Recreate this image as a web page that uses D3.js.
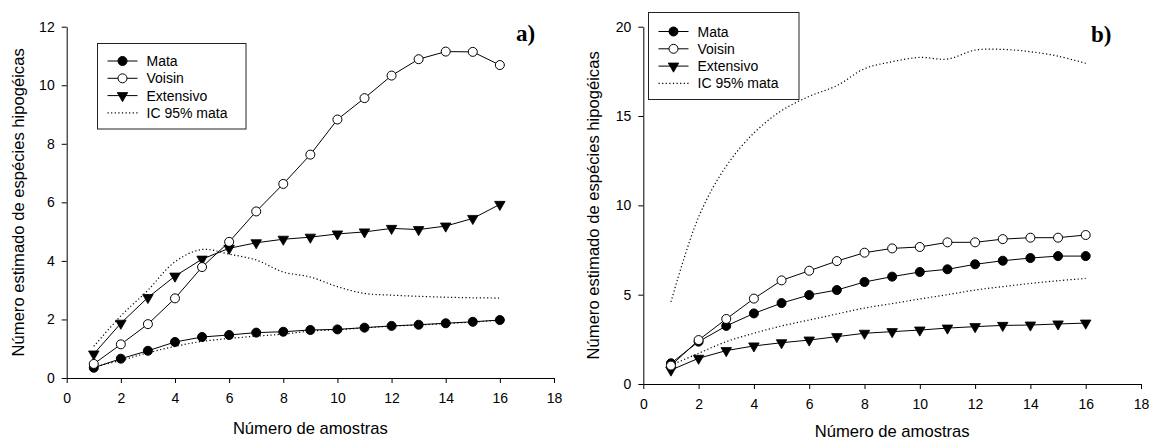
<!DOCTYPE html>
<meta charset="utf-8">
<style>
body { margin: 0; background: #fff; }
text { font-family: "Liberation Sans", Arial, sans-serif; fill: #000; }
.axis .tick text { font-size: 14px; font-family: "Liberation Sans", Arial, sans-serif; }
.axis path, .axis line { stroke: #000; stroke-width: 1; }
.lbl { font-size: 16.6px; }
.tag { font-family: "Liberation Serif", "Times New Roman", serif; font-weight: bold; font-size: 23px; }
.leg text { font-size: 14px; }
</style>
<script src="https://d3js.org/d3.v7.min.js"></script>
<svg width="1150" height="441"></svg>
<script>

var amostras = d3.range(1, 17);

// a)
var mataA     = [0.35, 0.66, 0.93, 1.23, 1.40, 1.47, 1.55, 1.58, 1.64, 1.66, 1.72, 1.78, 1.82, 1.87, 1.92, 1.98];
var voisinA   = [0.48, 1.15, 1.84, 2.72, 3.79, 4.65, 5.69, 6.63, 7.63, 8.83, 9.56, 10.33, 10.89, 11.15, 11.14, 10.69];
var extensA   = [0.82, 1.87, 2.75, 3.48, 4.06, 4.43, 4.62, 4.74, 4.81, 4.92, 4.99, 5.11, 5.07, 5.19, 5.45, 5.93];
var icSupA    = [1.08, 2.12, 3.00, 3.97, 4.39, 4.23, 4.03, 3.62, 3.45, 3.12, 2.89, 2.83, 2.79, 2.76, 2.74, 2.73];
var icInfA    = [0.38, 0.60, 0.86, 1.08, 1.25, 1.35, 1.43, 1.50, 1.60, 1.65, 1.71, 1.77, 1.81, 1.86, 1.91, 1.97];

// b)
var mataB     = [1.16, 2.37, 3.25, 3.95, 4.53, 4.98, 5.26, 5.71, 6.01, 6.27, 6.42, 6.70, 6.90, 7.05, 7.16, 7.16];
var voisinB   = [1.03, 2.46, 3.64, 4.78, 5.80, 6.34, 6.88, 7.35, 7.59, 7.67, 7.93, 7.93, 8.11, 8.19, 8.19, 8.34];
var extensB   = [0.78, 1.44, 1.87, 2.13, 2.31, 2.46, 2.65, 2.84, 2.93, 3.02, 3.13, 3.21, 3.28, 3.30, 3.36, 3.41];
var icSupB    = [4.60, 9.35, 12.20, 14.05, 15.30, 16.10, 16.70, 17.65, 18.04, 18.28, 18.19, 18.69, 18.73, 18.60, 18.35, 17.95];
var icInfB    = [1.05, 1.72, 2.37, 2.84, 3.25, 3.58, 3.92, 4.25, 4.50, 4.76, 5.00, 5.26, 5.45, 5.63, 5.78, 5.91];

var legendNames = ["Mata", "Voisin", "Extensivo", "IC 95% mata"];
var xTicks = d3.range(0, 19, 2);
var yTicksA = d3.range(0, 13, 2);
var yTicksB = d3.range(0, 21, 5);

var svg = d3.select("svg");

function panel(o) {
  var x = d3.scaleLinear().domain([0, 18]).range([o.x0, o.x1]);
  var y = d3.scaleLinear().domain([0, o.ymax]).range([o.y0, o.y1]);
  var g = svg.append("g");

  g.append("g").attr("class", "axis")
      .attr("transform", "translate(0," + o.y0 + ")")
      .call(d3.axisBottom(x).tickValues(xTicks).tickSize(5).tickSizeOuter(0).tickPadding(10));
  g.append("g").attr("class", "axis")
      .attr("transform", "translate(" + o.x0 + ",0)")
      .call(d3.axisLeft(y).tickValues(o.yTicks).tickSize(5).tickSizeOuter(0).tickPadding(7));

  var line = d3.line().x(function(d, i) { return x(amostras[i]); }).y(function(d) { return y(d); });
  var smooth = d3.line().curve(d3.curveCatmullRom).x(function(d, i) { return x(amostras[i]); }).y(function(d) { return y(d); });

  [o.icSup, o.icInf].forEach(function(s) {
    g.append("path").attr("d", smooth(s)).attr("fill", "none")
      .attr("stroke", "#000").attr("stroke-width", 1.2).attr("stroke-dasharray", "1.2,2.4");
  });

  var series = [
    { v: o.ext, sym: "tri" },
    { v: o.mata, sym: "fill" },
    { v: o.voisin, sym: "open" }
  ];
  series.forEach(function(s) {
    g.append("path").attr("d", line(s.v)).attr("fill", "none").attr("stroke", "#000").attr("stroke-width", 1);
  });
  series.forEach(function(s) {
    s.v.forEach(function(d, i) { marker(g, s.sym, x(amostras[i]), y(d)); });
  });

  // legend
  var L = o.leg;
  var lg = g.append("g").attr("class", "leg");
  lg.append("rect").attr("x", L.x).attr("y", L.y).attr("width", L.w).attr("height", L.h)
    .attr("fill", "#fff").attr("stroke", "#222").attr("stroke-width", 1);
  var syms = ["fill", "open", "tri", "dot"];
  legendNames.forEach(function(n, i) {
    var yy = L.y + L.top + i * 17.3;
    var lx = L.x + 10, rx = L.x + 40;
    var ln = lg.append("line").attr("x1", lx).attr("x2", rx).attr("y1", yy).attr("y2", yy)
      .attr("stroke", "#000").attr("stroke-width", 1);
    if (syms[i] === "dot") ln.attr("stroke-width", 1.2).attr("stroke-dasharray", "1.2,2.4");
    else marker(lg, syms[i], (lx + rx) / 2, yy);
    lg.append("text").attr("x", L.x + 49).attr("y", yy + 5).text(n);
  });

  g.append("text").attr("class", "lbl").attr("text-anchor", "middle")
    .attr("x", (o.x0 + o.x1) / 2).attr("y", o.y0 + o.xlOff).text("Número de amostras");
  g.append("text").attr("class", "lbl").attr("text-anchor", "middle")
    .attr("transform", "translate(" + o.ylx + "," + ((o.y0 + o.y1) / 2) + ") rotate(-90)")
    .text("Número estimado de espécies hipogéicas");
  g.append("text").attr("class", "tag").attr("x", o.tag[0]).attr("y", o.tag[1]).text(o.tagText);
}

function marker(g, sym, cx, cy) {
  if (sym === "tri") {
    g.append("path").attr("d", d3.symbol().type(d3.symbolTriangle).size(48)())
      .attr("transform", "translate(" + cx + "," + cy + ") rotate(180)")
      .attr("fill", "#000").attr("stroke", "#000").attr("stroke-width", 0.8);
  } else {
    g.append("circle").attr("cx", cx).attr("cy", cy).attr("r", 4.5)
      .attr("fill", sym === "fill" ? "#000" : "#fff").attr("stroke", "#000").attr("stroke-width", 1);
  }
}

panel({
  x0: 66.7, x1: 554, y0: 378, y1: 26.7, ymax: 12, yTicks: yTicksA,
  mata: mataA, voisin: voisinA, ext: extensA, icSup: icSupA, icInf: icInfA,
  leg: { x: 97.5, y: 43.5, w: 148.5, h: 85.5, top: 17.5 },
  ylx: 24, xlOff: 55.5, tag: [516, 41], tagText: "a)"
});

panel({
  x0: 643.3, x1: 1141, y0: 384, y1: 26.7, ymax: 20, yTicks: yTicksB,
  mata: mataB, voisin: voisinB, ext: extensB, icSup: icSupB, icInf: icInfB,
  leg: { x: 648.5, y: 12.5, w: 150.5, h: 87, top: 19 },
  ylx: 599, xlOff: 52.5, tag: [1091, 42], tagText: "b)"
});

</script>
